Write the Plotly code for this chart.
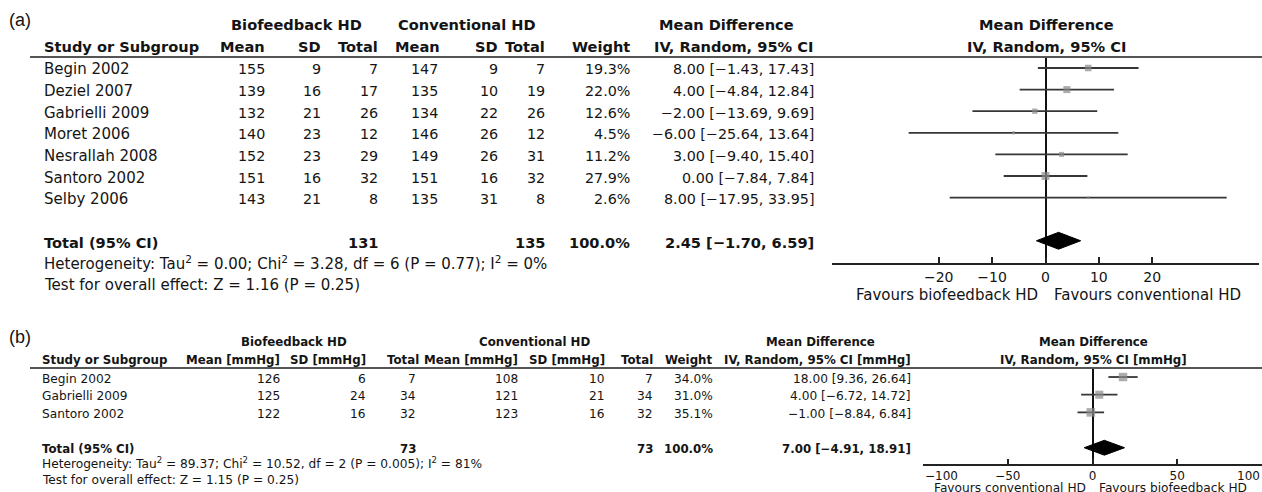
import math
import plotly.graph_objects as go

W, H = 1262, 492
FONT = "DejaVu Sans"
INK = "#141414"
SQUARE = "#8a8a8a"
WHISKER = "#363636"

# ---------------- (a) data ----------------
studies_a = ["Begin 2002", "Deziel 2007", "Gabrielli 2009", "Moret 2006",
             "Nesrallah 2008", "Santoro 2002", "Selby 2006"]
bio_mean_a = [155, 139, 132, 140, 152, 151, 143]
bio_sd_a = [9, 16, 21, 23, 23, 16, 21]
bio_n_a = [7, 17, 26, 12, 29, 32, 8]
con_mean_a = [147, 135, 134, 146, 149, 151, 135]
con_sd_a = [9, 10, 22, 26, 26, 16, 31]
con_n_a = [7, 19, 26, 12, 31, 32, 8]
weight_a = [19.3, 22.0, 12.6, 4.5, 11.2, 27.9, 2.6]
md_a = [8.00, 4.00, -2.00, -6.00, 3.00, 0.00, 8.00]
lo_a = [-1.43, -4.84, -13.69, -25.64, -9.40, -7.84, -17.95]
hi_a = [17.43, 12.84, 9.69, 13.64, 15.40, 7.84, 33.95]
total_a = dict(bio_n=131, con_n=135, weight=100.0, md=2.45, lo=-1.70, hi=6.59)
het_a = "Heterogeneity: Tau<sup>2</sup> = 0.00; Chi<sup>2</sup> = 3.28, df = 6 (P = 0.77); I<sup>2</sup> = 0%"
test_a = "Test for overall effect: Z = 1.16 (P = 0.25)"
ticks_a = [-20, -10, 0, 10, 20]

# ---------------- (b) data ----------------
studies_b = ["Begin 2002", "Gabrielli 2009", "Santoro 2002"]
bio_mean_b = [126, 125, 122]
bio_sd_b = [6, 24, 16]
bio_n_b = [7, 34, 32]
con_mean_b = [108, 121, 123]
con_sd_b = [10, 21, 16]
con_n_b = [7, 34, 32]
weight_b = [34.0, 31.0, 35.1]
md_b = [18.00, 4.00, -1.00]
lo_b = [9.36, -6.72, -8.84]
hi_b = [26.64, 14.72, 6.84]
total_b = dict(bio_n=73, con_n=73, weight=100.0, md=7.00, lo=-4.91, hi=18.91)
het_b = "Heterogeneity: Tau<sup>2</sup> = 89.37; Chi<sup>2</sup> = 10.52, df = 2 (P = 0.005); I<sup>2</sup> = 81%"
test_b = "Test for overall effect: Z = 1.15 (P = 0.25)"
ticks_b = [-100, -50, 0, 50, 100]


def num(v):
    return f"{v:.2f}".replace("-", "\u2212")


def ci_text(m, lo, hi):
    return f"{num(m)} [{num(lo)}, {num(hi)}]"


def tick_text(v):
    return str(v).replace("-", "\u2212")


annotations = []


def txt(x, y, s, anchor="right", size=14, bold=False, family=FONT):
    annotations.append(dict(
        x=x / W, y=1 - y / H, xref="paper", yref="paper",
        text=f"<b>{s}</b>" if bold else s,
        xanchor=anchor, yanchor="middle", showarrow=False,
        font=dict(size=size, family=family, color=INK)))


fig = go.Figure()


def forest(xa, ya, md, lo, hi, weight, total, half_h, sq_scale):
    rows = list(range(len(md)))
    xs, ys = [], []
    for r, a, b in zip(rows, lo, hi):
        xs += [a, b, None]
        ys += [r, r, None]
    fig.add_trace(go.Scatter(x=xs, y=ys, mode="lines", xaxis=xa, yaxis=ya,
                             line=dict(color=WHISKER, width=1.8),
                             hoverinfo="skip", showlegend=False))
    fig.add_trace(go.Scatter(x=md, y=rows, mode="markers", xaxis=xa, yaxis=ya,
                             marker=dict(symbol="square", color=SQUARE,
                                         size=[sq_scale * math.sqrt(w) for w in weight],
                                         line=dict(width=0)),
                             showlegend=False))
    tr = len(md) + 1
    fig.add_trace(go.Scatter(
        x=[total["lo"], total["md"], total["hi"], total["md"], total["lo"]],
        y=[tr, tr - half_h, tr, tr + half_h, tr],
        mode="lines", fill="toself", fillcolor="black", xaxis=xa, yaxis=ya,
        line=dict(color="black", width=1), showlegend=False))


# ---------- panel (a) table ----------
A_TXT, A_NUM, A_BOLD = 15.0, 14.3, 14.6
row_a = lambda i: 68 + 21.6 * i
txt(7, 20, "(a)", "left", 18, family="Liberation Sans")
for s, cx in [("Biofeedback HD", 296), ("Conventional HD", 467),
              ("Mean Difference", 727), ("Mean Difference", 1046)]:
    txt(cx, 24, s, "center", A_BOLD, True)
txt(42, 46, "Study or Subgroup", "left", A_BOLD, True)
for s, rx in [("Mean", 267), ("SD", 323), ("Total", 380), ("Mean", 442),
              ("SD", 500), ("Total", 547), ("Weight", 632),
              ("IV, Random, 95% CI", 815)]:
    txt(rx, 46, s, "right", A_BOLD, True)
txt(1046, 46, "IV, Random, 95% CI", "center", A_BOLD, True)

cols_a = [(bio_mean_a, 267), (bio_sd_a, 323), (bio_n_a, 380),
          (con_mean_a, 440), (con_sd_a, 500), (con_n_a, 547)]
for i, name in enumerate(studies_a):
    y = row_a(i) + 1.5
    txt(42, y, name, "left", A_TXT)
    for vals, rx in cols_a:
        txt(rx, y, str(vals[i]), "right", A_NUM)
    txt(632, y, f"{weight_a[i]:.1f}%", "right", A_NUM)
    txt(816, y, ci_text(md_a[i], lo_a[i], hi_a[i]), "right", A_NUM)
yt = row_a(8) + 1.5
txt(42, yt, "Total (95% CI)", "left", A_BOLD, True)
txt(380, yt, str(total_a["bio_n"]), "right", A_BOLD, True)
txt(547, yt, str(total_a["con_n"]), "right", A_BOLD, True)
txt(632, yt, f"{total_a['weight']:.1f}%", "right", A_BOLD, True)
txt(816, yt, ci_text(total_a["md"], total_a["lo"], total_a["hi"]), "right", A_BOLD, True)
txt(42, 263, het_a, "left", A_TXT)
txt(42, 285, test_a, "left", A_TXT)
txt(1040, 295, "Favours biofeedback HD", "right", A_TXT)
txt(1052, 295, "Favours conventional HD", "left", A_TXT)

# ---------- panel (b) table ----------
B_TXT, B_BOLD = 12.2, 11.8
row_b = lambda i: 377 + 17.7 * i
txt(7, 337, "(b)", "left", 18, family="Liberation Sans")
for s, cx in [("Biofeedback HD", 294), ("Conventional HD", 534),
              ("Mean Difference", 820), ("Mean Difference", 1093)]:
    txt(cx, 342, s, "center", B_BOLD, True)
txt(40, 360, "Study or Subgroup", "left", B_BOLD, True)
for s, rx in [("Mean [mmHg]", 282), ("SD [mmHg]", 368), ("Total", 421),
              ("Mean [mmHg]", 520), ("SD [mmHg]", 607), ("Total", 655),
              ("Weight", 714), ("IV, Random, 95% CI [mmHg]", 913)]:
    txt(rx, 360, s, "right", B_BOLD, True)
txt(1093, 360, "IV, Random, 95% CI [mmHg]", "center", B_BOLD, True)

cols_b = [(bio_mean_b, 282), (bio_sd_b, 368), (bio_n_b, 418),
          (con_mean_b, 520), (con_sd_b, 607), (con_n_b, 655)]
for i, name in enumerate(studies_b):
    y = row_b(i) + 1.5
    txt(40, y, name, "left", B_TXT)
    for vals, rx in cols_b:
        txt(rx, y, str(vals[i]), "right", B_TXT)
    txt(715, y, f"{weight_b[i]:.1f}%", "right", B_TXT)
    txt(913, y, ci_text(md_b[i], lo_b[i], hi_b[i]), "right", B_TXT)
yt = row_b(4) + 1
txt(40, yt, "Total (95% CI)", "left", B_BOLD, True)
txt(418, yt, str(total_b["bio_n"]), "right", B_BOLD, True)
txt(655, yt, str(total_b["con_n"]), "right", B_BOLD, True)
txt(715, yt, f"{total_b['weight']:.1f}%", "right", B_BOLD, True)
txt(913, yt, ci_text(total_b["md"], total_b["lo"], total_b["hi"]), "right", B_BOLD, True)
txt(40, 463, het_b, "left", B_TXT)
txt(40, 480, test_b, "left", B_TXT)
txt(1088, 488, "Favours conventional HD", "right", B_TXT)
txt(1097, 488, "Favours biofeedback HD", "left", B_TXT)

# ---------- forest plots ----------
forest("x", "y", md_a, lo_a, hi_a, weight_a, total_a, 0.39, 1.5)
forest("x2", "y2", md_b, lo_b, hi_b, weight_b, total_b, 0.42, 1.45)

# the outermost scale labels of (b) sit inside the axis ends
ticktext_b = [tick_text(v) for v in ticks_b]
ticktext_b[0] = ticktext_b[-1] = ""
txt(923, 476, tick_text(ticks_b[0]), "left", 12)
txt(1262, 476, tick_text(ticks_b[-1]), "right", 12)

axis_common = dict(showgrid=False, showline=True, linecolor="#222", linewidth=1.6,
                   ticks="inside", tickcolor="#222", tickwidth=1.6,
                   zeroline=True, zerolinecolor="#111", zerolinewidth=1.8,
                   fixedrange=True)

fig.update_layout(
    width=W, height=H,
    margin=dict(l=0, r=0, t=0, b=0, pad=0),
    paper_bgcolor="white", plot_bgcolor="rgba(0,0,0,0)",
    showlegend=False,
    xaxis=dict(domain=[832 / W, 1259 / W], range=[-40, 40], anchor="y",
               tickvals=ticks_a, ticktext=[tick_text(v) for v in ticks_a],
               ticklen=6, tickfont=dict(size=14, family=FONT, color=INK),
               **axis_common),
    yaxis=dict(domain=[1 - 263 / H, 1 - 57 / H], range=[9.03, -0.51],
               visible=False, fixedrange=True),
    xaxis2=dict(domain=[923 / W, 1.0], range=[-100, 100], anchor="y2",
                tickvals=ticks_b, ticktext=ticktext_b,
                ticklen=5, tickfont=dict(size=12, family=FONT, color=INK),
                **axis_common),
    yaxis2=dict(domain=[1 - 464 / H, 1 - 368 / H], range=[4.92, -0.51],
                visible=False, fixedrange=True),
    annotations=annotations,
    shapes=[
        dict(type="line", xref="paper", yref="paper", x0=30 / W, x1=1.0,
             y0=1 - 57 / H, y1=1 - 57 / H, line=dict(color="#555", width=2)),
        dict(type="line", xref="paper", yref="paper", x0=30 / W, x1=1.0,
             y0=1 - 368 / H, y1=1 - 368 / H, line=dict(color="#555", width=2)),
    ],
)

fig.write_html("out.html")
